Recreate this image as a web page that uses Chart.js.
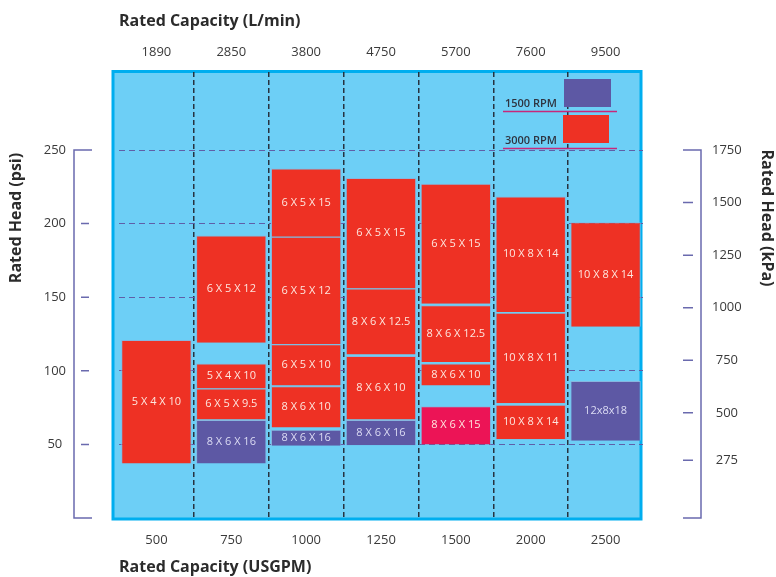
<!DOCTYPE html>
<html>
  <head>
    <title>Pump selection chart</title>
    <script src="https://cdn.jsdelivr.net/npm/chart.js"></script>
    <style>
      html, body { margin: 0; padding: 0; background: #fff; }
      #wrap { width: 776px; height: 577px; }
    </style>
  </head>
  <body>
    <div id="wrap"><canvas id="pumpChart"></canvas></div>
    <script>
      // categories
      var gpm = ["500", "750", "1000", "1250", "1500", "2000", "2500"];
      var lpm = ["1890", "2850", "3800", "4750", "5700", "7600", "9500"];
      var psiTicks = [50, 100, 150, 200, 250];
      var kpaTicks = [275, 500, 750, 1000, 1250, 1500, 1750];

      // head ranges (psi) per column, bottom segment first
      var level1 = [[37, 121], [37, 66.5], [49, 60], [49.5, 66.5], [50, 76], [53.5, 77], [52.5, 93]];
      var level1Models = ["5 X 4 X 10", "8 X 6 X 16", "8 X 6 X 16", "8 X 6 X 16", "8 X 6 X 15", "10 X 8 X 14", "12x8x18"];
      var level1Speed = ["3000", "1500", "1500", "1500", "alt", "3000", "1500"];

      var level2 = [null, [67, 88], [61.5, 89.5], [67, 110], [90, 105], [78, 139.5], [130, 201]];
      var level2Models = [null, "6 X 5 X 9.5", "8 X 6 X 10", "8 X 6 X 10", "8 X 6 X 10", "10 X 8 X 11", "10 X 8 X 14"];

      var level3 = [null, [88, 105], [90, 118], [111, 156], [106, 144.5], [140, 218.5], null];
      var level3Models = [null, "5 X 4 X 10", "6 X 5 X 10", "8 X 6 X 12.5", "8 X 6 X 12.5", "10 X 8 X 14", null];

      var level4 = [null, [119, 192], [118, 191], [156, 231], [145.5, 227], null, null];
      var level4Models = [null, "6 X 5 X 12", "6 X 5 X 12", "6 X 5 X 15", "6 X 5 X 15", null, null];

      var level5 = [null, null, [191, 237.5], null, null, null, null];
      var level5Models = [null, null, "6 X 5 X 15", null, null, null, null];

      var speedColors = { "3000": "#ee3124", "1500": "#5d58a4", alt: "#ec1456" };
      var textColors = { "3000": "#fde6df", "1500": "#dcdcf4", alt: "#fde6df" };

      function makeSet(data, models, speeds) {
        return {
          data: data,
          models: models,
          speeds: speeds,
          backgroundColor: speeds.map(function (s) { return speedColors[s]; }),
          borderColor: "#86b6df",
          borderWidth: 1,
          grouped: false,
          skipNull: true,
          categoryPercentage: 1,
          barPercentage: 0.94,
        };
      }
      var allRed = gpm.map(function () { return "3000"; });

      // fixed axis sizes so the plot box lands where the original has it
      function fixSize(w, h) {
        return function (s) {
          if (w) s.width = w;
          if (h) s.height = h;
          s.paddingTop = 0;
          s.paddingBottom = 0;
          s.paddingLeft = 0;
          s.paddingRight = 0;
        };
      }

      var boxPlugin = {
        id: "box",
        beforeDraw: function (chart) {
          var a = chart.chartArea, ctx = chart.ctx;
          ctx.save();
          ctx.fillStyle = "#6dcff6";
          ctx.fillRect(a.left - 7, a.top - 2, a.right - a.left + 6, a.bottom - a.top + 4);
          ctx.strokeStyle = "#00aeef";
          ctx.lineWidth = 3;
          ctx.strokeRect(a.left - 6, a.top - 0.5, a.right - a.left + 4, a.bottom - a.top + 1.5);
          ctx.restore();
        },
      };

      var labelPlugin = {
        id: "barLabels",
        afterDatasetsDraw: function (chart) {
          var ctx = chart.ctx;
          ctx.save();
          ctx.font = "11px 'Open Sans'";
          ctx.textAlign = "center";
          ctx.textBaseline = "middle";
          chart.data.datasets.forEach(function (ds, di) {
            var meta = chart.getDatasetMeta(di);
            meta.data.forEach(function (el, i) {
              if (!ds.data[i] || !ds.models[i]) return;
              ctx.fillStyle = textColors[ds.speeds[i]];
              ctx.fillText(ds.models[i], el.x, (el.y + el.base) / 2);
            });
          });

          // legend
          var a = chart.chartArea;
          ctx.strokeStyle = "#c8287a";
          ctx.lineWidth = 1.5;
          ctx.beginPath();
          ctx.moveTo(a.right - 140, a.top + 39.5);
          ctx.lineTo(a.right - 26, a.top + 39.5);
          ctx.moveTo(a.right - 140, a.top + 76.5);
          ctx.lineTo(a.right - 26, a.top + 76.5);
          ctx.stroke();
          ctx.fillStyle = speedColors["1500"];
          ctx.fillRect(a.right - 79, a.top + 7, 47, 28);
          ctx.fillStyle = speedColors["3000"];
          ctx.fillRect(a.right - 80, a.top + 43, 46, 28);
          ctx.fillStyle = "#2f3440";
          ctx.font = "600 11px 'Open Sans'";
          ctx.textAlign = "left";
          ctx.textBaseline = "alphabetic";
          ctx.fillText("1500 RPM", a.right - 138, a.top + 35);
          ctx.fillText("3000 RPM", a.right - 138, a.top + 72);
          ctx.restore();
        },
      };

      var bracketPlugin = {
        id: "brackets",
        afterDraw: function (chart) {
          var ctx = chart.ctx, a = chart.chartArea;
          var y = chart.scales.y, y2 = chart.scales.y2;
          ctx.save();
          ctx.strokeStyle = "#6a6aae";
          ctx.lineWidth = 1.5;
          // left bracket
          var lx = a.left - 45;
          var lt = y.getPixelForValue(250), lb = y.getPixelForValue(0);
          ctx.beginPath();
          ctx.moveTo(lx + 18, lt); ctx.lineTo(lx, lt); ctx.lineTo(lx, lb); ctx.lineTo(lx + 18, lb);
          psiTicks.forEach(function (v) {
            if (v === 250) return;
            var py = y.getPixelForValue(v);
            ctx.moveTo(lx + 7, py); ctx.lineTo(lx + 15, py);
          });
          ctx.stroke();
          // right bracket
          var rx = a.right + 58;
          var rt = y2.getPixelForValue(1750), rb = y2.getPixelForValue(0);
          ctx.beginPath();
          ctx.moveTo(rx - 18, rt); ctx.lineTo(rx, rt); ctx.lineTo(rx, rb); ctx.lineTo(rx - 18, rb);
          kpaTicks.forEach(function (v) {
            if (v === 1750) return;
            var py = y2.getPixelForValue(v);
            ctx.moveTo(rx - 18, py); ctx.lineTo(rx - 8, py);
          });
          ctx.stroke();

          // vertical titles
          ctx.fillStyle = "#2b2b2b";
          ctx.font = "bold 16px 'Open Sans'";
          ctx.textAlign = "center";
          ctx.textBaseline = "middle";
          ctx.translate(16, a.top + 146);
          ctx.rotate(-Math.PI / 2);
          ctx.fillText("Rated Head (psi)", 0, 0);
          ctx.setTransform(1, 0, 0, 1, 0, 0);
          ctx.translate(chart.width - 9, a.top + 146);
          ctx.rotate(Math.PI / 2);
          ctx.fillText("Rated Head (kPa)", 0, 0);
          ctx.restore();
        },
      };

      Chart.defaults.font.family = "'Open Sans', sans-serif";
      Chart.defaults.color = "#3a3a3a";

      var ctx = document.getElementById("pumpChart").getContext("2d");
      var pumpChart = new Chart(ctx, {
        type: "bar",
        data: {
          labels: gpm,
          datasets: [
            makeSet(level1, level1Models, level1Speed),
            makeSet(level2, level2Models, allRed),
            makeSet(level3, level3Models, allRed),
            makeSet(level4, level4Models, allRed),
            makeSet(level5, level5Models, allRed),
          ],
        },
        options: {
          responsive: true,
          maintainAspectRatio: false,
          animation: false,
          layout: { padding: 0 },
          plugins: { legend: { display: false }, tooltip: { enabled: false } },
          scales: {
            x: {
              position: "bottom",
              grid: {
                offset: true,
                drawTicks: false,
                lineWidth: 1.5,
                color: function (c) {
                  return c.index === 0 || c.tick === undefined ? "rgba(0,0,0,0)" : "#27333f";
                },
              },
              border: { display: false, dash: [5, 3] },
              ticks: { font: { size: 13 }, padding: 14, color: "#3a3a3a" },
              title: {
                display: true,
                text: "Rated Capacity (USGPM)",
                align: "start",
                color: "#2b2b2b",
                font: { size: 16, weight: "bold" },
                padding: 0,
              },
              afterFit: fixSize(0, 59),
            },
            xTop: {
              type: "category",
              position: "top",
              labels: lpm,
              grid: { display: false, drawTicks: false },
              border: { display: false },
              ticks: { font: { size: 13 }, padding: 12, color: "#3a3a3a" },
              title: {
                display: true,
                text: "Rated Capacity (L/min)",
                align: "start",
                color: "#2b2b2b",
                font: { size: 16, weight: "bold" },
                padding: { top: 12, bottom: 0 },
              },
              afterFit: fixSize(0, 72),
            },
            y: {
              position: "left",
              min: 0,
              max: 303,
              afterBuildTicks: function (s) {
                s.ticks = psiTicks.map(function (v) { return { value: v }; });
              },
              grid: { drawTicks: false, color: "#5f5fa8", lineWidth: 1 },
              border: { display: false, dash: [6, 4] },
              ticks: {
                font: { size: 13 },
                padding: 53,
                crossAlign: "center",
                color: "#3a3a3a",
                callback: function (v) { return String(v); },
              },
              afterFit: fixSize(119, 0),
            },
            y2: {
              position: "right",
              min: 0,
              max: 2121,
              afterBuildTicks: function (s) {
                s.ticks = kpaTicks.map(function (v) { return { value: v }; });
              },
              grid: { display: false, drawTicks: false },
              border: { display: false },
              ticks: {
                font: { size: 13 },
                padding: 69,
                crossAlign: "center",
                color: "#3a3a3a",
                callback: function (v) { return String(v); },
              },
              afterFit: fixSize(133, 0),
            },
          },
        },
        plugins: [boxPlugin, labelPlugin, bracketPlugin],
      });
    </script>
  </body>
</html>
